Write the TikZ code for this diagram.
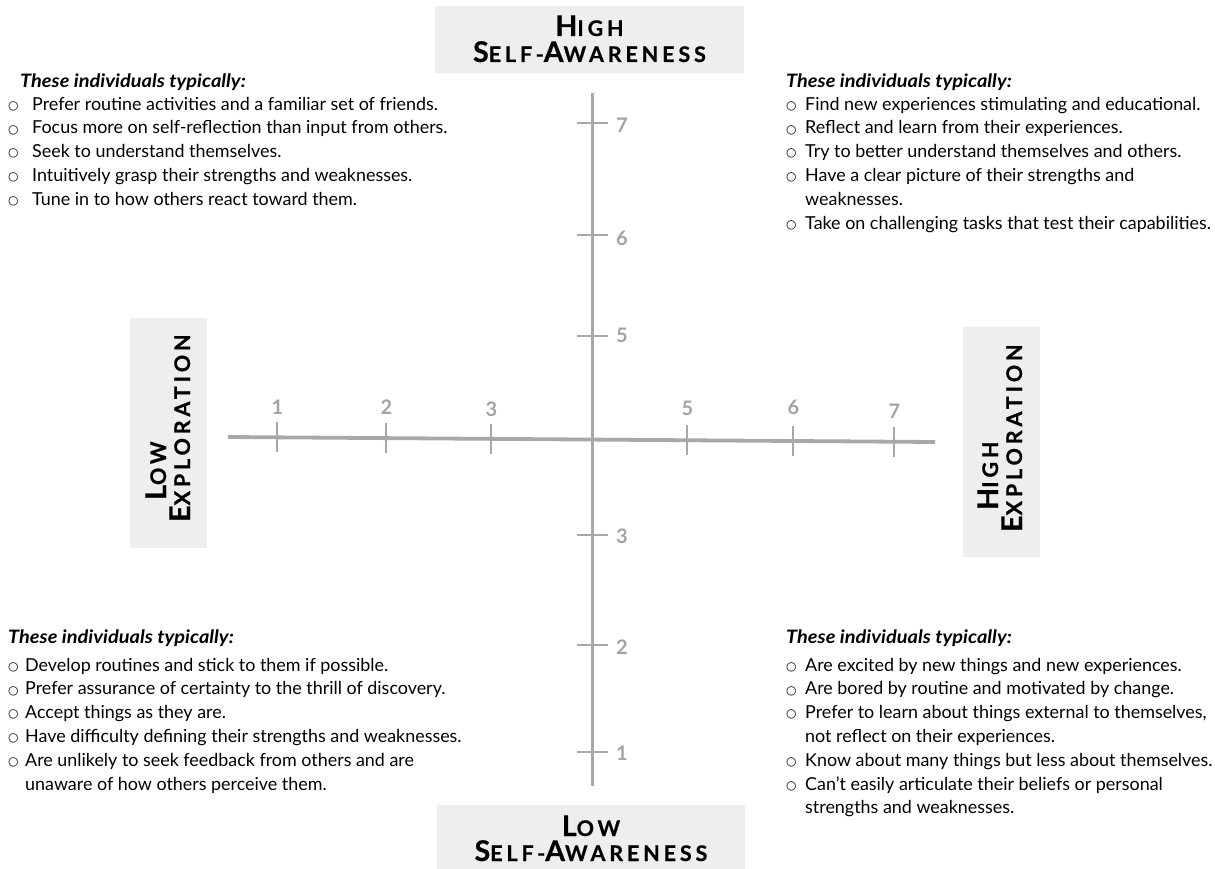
\documentclass[tikz,border=0pt]{standalone}
\usepackage{fontspec}
\setmainfont{Lato}
\newfontfamily\lblfont{Lato}[LetterSpace=18,BoldFeatures={FakeBold=0.6}]
\newfontfamily\symfont{DejaVu Sans}
\usepackage{array}
\definecolor{axisgray}{HTML}{A8A8A8}
\definecolor{numgray}{HTML}{A3A3A3}
\definecolor{boxgray}{HTML}{EEEEEE}
\newcommand\BigL[1]{{\fontsize{28.5}{28.5}\selectfont #1}}
\newcommand\SmL[1]{{\fontsize{21.5}{21.5}\selectfont #1}}
\newcommand\bul{\raisebox{0.8pt}{\symfont\fontsize{12}{12}\selectfont ○}}
\newcommand\hdr[1]{\scalebox{1.08}[1]{\fontsize{18.5}{23.8}\selectfont\bfseries\itshape #1}}
\begin{document}
\begin{tikzpicture}[x=1pt,y=-1pt,
  lbltext/.style={inner sep=0pt,font=\lblfont\bfseries,align=center},
  axisline/.style={draw=axisgray,line width=3.8pt},
  tickline/.style={draw=axisgray,line width=1.8pt},
  num/.style={inner sep=0pt,text=numgray,font=\fontsize{20}{20}\selectfont\bfseries},
  txtblock/.style={inner sep=0pt,anchor=north west,font=\fontsize{17.9}{23.8}\selectfont}
]
\useasboundingbox (0,0) rectangle (1215,869);

% label boxes
\fill[boxgray] (435,6) rectangle (744,73);
\fill[boxgray] (437,805) rectangle (745,869);
\fill[boxgray] (130,318) rectangle (207,548);
\fill[boxgray] (963,327) rectangle (1040,557);

\node[lbltext,anchor=base] (top1) at (589.5,36) {\BigL{H}\SmL{IGH}};
\node[lbltext,anchor=base] (top2) at (589.5,62) {\BigL{S}\SmL{ELF-}\BigL{A}\SmL{WARENESS}};
\node[lbltext,anchor=base] (bot1) at (591,836) {\BigL{L}\SmL{OW}};
\node[lbltext,anchor=base] (bot2) at (591,861) {\BigL{S}\SmL{ELF-}\BigL{A}\SmL{WARENESS}};
\node[lbltext,anchor=base west,rotate=90] (lft1) at (166,500) {\BigL{L}\SmL{OW}};
\node[lbltext,anchor=base west,rotate=90] (lft2) at (190,522) {\BigL{E}\SmL{XPLORATION}};
\node[lbltext,anchor=base west,rotate=90] (rgt1) at (998,510) {\BigL{H}\SmL{IGH}};
\node[lbltext,anchor=base west,rotate=90] (rgt2) at (1022,532) {\BigL{E}\SmL{XPLORATION}};

% axes
\coordinate (axL) at (228,437);
\coordinate (axR) at (935,442);
\coordinate (axT) at (592.5,93);
\coordinate (axB) at (592.5,786);
\draw[axisline] (axL) -- (axR);
\draw[axisline] (axT) -- (axB);

% horizontal ticks
\foreach \x/\y/\n/\ly in {277/437.35/1/407, 386/438.1/2/407, 491/438.9/3/409, 687/440.2/5/408, 793/441.0/6/407, 894/441.7/7/411}{
  \draw[tickline] (\x,\y-15) -- (\x,\y+15);
  \node[num] (h\n) at (\x+0.5,\ly) {\n};
}
% vertical ticks
\foreach \y/\n/\ly in {123/7/125, 235/6/238, 336/5/335, 535/3/536, 645/2/647, 752/1/753}{
  \draw[tickline] (577,\y) -- (608,\y);
  \node[num] (v\n) at (622,\ly) {\n};
}

% text blocks
\node[txtblock] (tl) at (8,70.3) {%
\begin{tabular}{@{}p{24pt}@{}l@{}}
\multicolumn{2}{@{}l@{}}{\hspace{12pt}\hdr{These individuals typically:}}\\[-0.8pt]
\bul & Prefer routine activities and a familiar set of friends.\\
\bul & Focus more on self-reflection than input from others.\\
\bul & Seek to understand themselves.\\
\bul & Intuitively grasp their strengths and weaknesses.\\
\bul & Tune in to how others react toward them.
\end{tabular}};

\node[txtblock] (tr) at (786,70.3) {%
\begin{tabular}{@{}p{19pt}@{}l@{}}
\multicolumn{2}{@{}l@{}}{\hdr{These individuals typically:}}\\[-0.8pt]
\bul & Find new experiences stimulating and educational.\\
\bul & Reflect and learn from their experiences.\\
\bul & Try to better understand themselves and others.\\
\bul & Have a clear picture of their strengths and\\
 & weaknesses.\\
\bul & Take on challenging tasks that test their capabilities.
\end{tabular}};

\node[txtblock] (bl) at (8,626.3) {%
\begin{tabular}{@{}p{17pt}@{}l@{}}
\multicolumn{2}{@{}l@{}}{\hdr{These individuals typically:}}\\[4.2pt]
\bul & Develop routines and stick to them if possible.\\
\bul & Prefer assurance of certainty to the thrill of discovery.\\
\bul & Accept things as they are.\\
\bul & Have difficulty defining their strengths and weaknesses.\\
\bul & Are unlikely to seek feedback from others and are\\
 & unaware of how others perceive them.
\end{tabular}};

\node[txtblock] (br) at (786,626.3) {%
\begin{tabular}{@{}p{19pt}@{}l@{}}
\multicolumn{2}{@{}l@{}}{\hdr{These individuals typically:}}\\[4.2pt]
\bul & Are excited by new things and new experiences.\\
\bul & Are bored by routine and motivated by change.\\
\bul & Prefer to learn about things external to themselves,\\
 & not reflect on their experiences.\\
\bul & Know about many things but less about themselves.\\
\bul & Can’t easily articulate their beliefs or personal\\
 & strengths and weaknesses.
\end{tabular}};
\end{tikzpicture}
\end{document}
